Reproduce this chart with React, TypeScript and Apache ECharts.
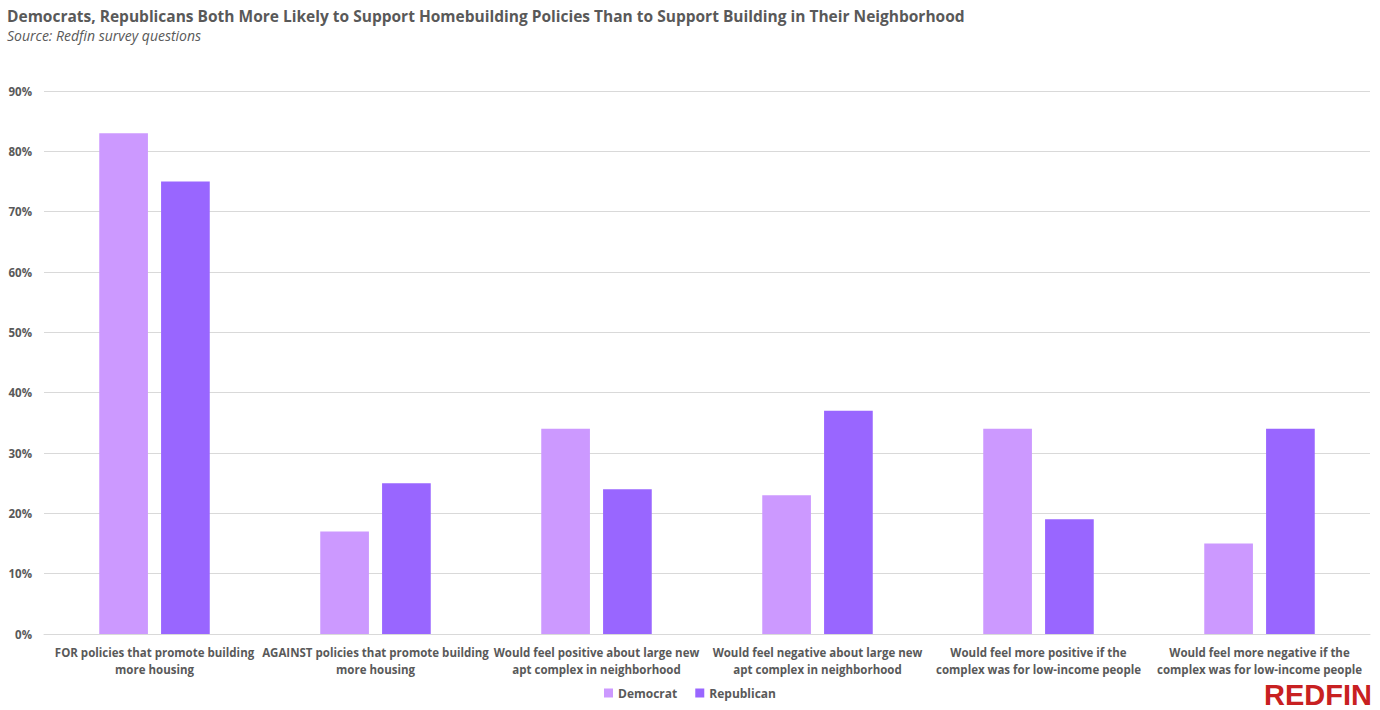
import React, { useEffect, useRef } from "react";
import * as echarts from "echarts";

const categories = [
  "FOR policies that promote building\nmore housing",
  "AGAINST policies that promote building\nmore housing",
  "Would feel positive about large new\napt complex in neighborhood",
  "Would feel negative about large new\napt complex in neighborhood",
  "Would feel more positive if the\ncomplex was for low-income people",
  "Would feel more negative if the\ncomplex was for low-income people",
];
const democrat = [83, 17, 34, 23, 34, 15];
const republican = [75, 25, 24, 37, 19, 34];
const yTicks = [0, 10, 20, 30, 40, 50, 60, 70, 80, 90];

const FONT = "'Open Sans', 'Noto Sans', sans-serif";

export default function App() {
  const ref = useRef<HTMLDivElement>(null);
  useEffect(() => {
    if (!ref.current) return;
    const chart = echarts.init(ref.current, null, { renderer: "svg" });
    chart.setOption({
      animation: false,
      backgroundColor: "#ffffff",
      title: {
        text: "Democrats, Republicans Both More Likely to Support Homebuilding Policies Than to Support Building in Their Neighborhood",
        subtext: "Source: Redfin survey questions",
        left: 2,
        top: 3,
        itemGap: 4,
        textStyle: { fontFamily: FONT, fontSize: 15.5, fontWeight: "bold", color: "#595959" },
        subtextStyle: { fontFamily: FONT, fontSize: 14, fontStyle: "italic", color: "#595959" },
      },
      legend: {
        bottom: 6,
        left: "center",
        itemWidth: 9,
        itemHeight: 9,
        itemGap: 18,
        icon: "rect",
        textStyle: { fontFamily: FONT, fontSize: 12, fontWeight: "bold", color: "#595959" },
        data: ["Democrat", "Republican"],
      },
      grid: { left: 44, right: 10, top: 91, bottom: 76, containLabel: false },
      xAxis: {
        type: "category",
        data: categories,
        axisLine: { lineStyle: { color: "#d9d9d9" } },
        axisTick: { show: false },
        axisLabel: {
          interval: 0,
          fontFamily: FONT,
          fontSize: 11.5,
          fontWeight: "bold",
          color: "#595959",
          lineHeight: 17,
          margin: 10,
        },
      },
      yAxis: {
        type: "value",
        min: 0,
        max: 90,
        interval: 10,
        axisLine: { show: false },
        axisTick: { show: false },
        splitLine: { lineStyle: { color: "#d9d9d9" } },
        axisLabel: {
          fontFamily: FONT,
          fontSize: 11.5,
          fontWeight: "bold",
          color: "#595959",
          margin: 12,
          formatter: (v: number) => (yTicks.includes(v) ? v + "%" : ""),
        },
      },
      series: [
        {
          name: "Democrat",
          type: "bar",
          data: democrat,
          itemStyle: { color: "#cc99ff" },
          barGap: "27%",
          barCategoryGap: "50%",
        },
        {
          name: "Republican",
          type: "bar",
          data: republican,
          itemStyle: { color: "#9966ff" },
        },
      ],
      graphic: [
        {
          type: "text",
          right: 8,
          bottom: 1,
          style: {
            text: "REDFIN",
            fontFamily: "'Liberation Sans', sans-serif",
            fontSize: 29,
            fontWeight: "bold",
            fill: "#c82021",
          },
        },
      ],
    });
    return () => chart.dispose();
  }, []);
  return <div ref={ref} style={{ width: 1380, height: 710, position: "absolute", left: 0, top: 0 }} />;
}
